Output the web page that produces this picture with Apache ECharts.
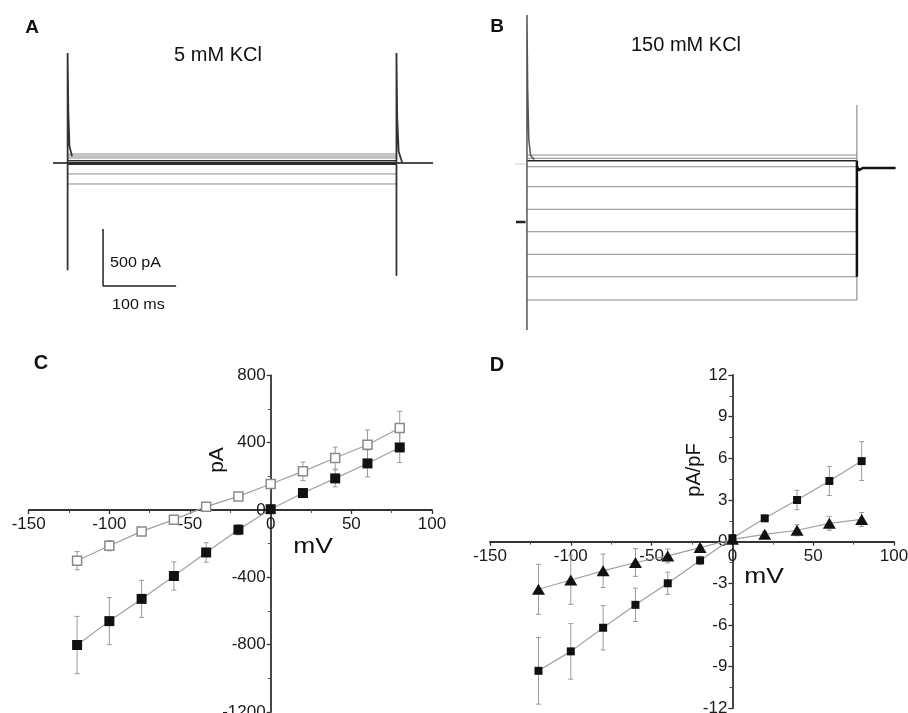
<!DOCTYPE html>
<html>
<head>
<meta charset="utf-8">
<script src="https://cdn.jsdelivr.net/npm/echarts@6/dist/echarts.min.js"></script>
<style>html,body{margin:0;padding:0;background:#fff}#c{width:908px;height:713px}</style>
</head>
<body>
<div id="c"></div>
<script>
// ---------- Panel A / B : current traces (pA), times in ms ----------
const aStepTimes = [20, 470];          // step onset / offset (ms)
const aEndTime = 520;
const aLevels = [79, 61, 44, 20, 6, -3, -11, -96, -184];   // steady currents (pA)
const aDark = [false, false, false, true, true, true, true, false, false];
const aOnsetSpike = [[20, -940], [20, 965], [21, 450], [22.5, 150], [26, 60]];
const aOffsetSpike = [[470, -990], [470, 965], [471, 400], [473, 100], [478, 0]];

const bStepTimes = [15, 467];
const bEndTime = 520;
const bLevels = [114, 85, 64, 11, -164, -362, -559, -757, -954, -1158];
const bDark = [false, false, true, false, false, false, false, false, false, false];
const bOnsetSpike = [[15, -1421], [15, 1342], [16, 700], [17.5, 250], [20, 110], [25, 75]];
const bOffsetThin = [[467, 553], [467, -1158]];
const bOffsetThick = [[467, 64], [467, -954]];
const bPreDash = [[0, -474], [13, -474]];
const bFaint = [[-5, 35], [15, 35]];
const bTail = [[467, 11], [470, -20], [475, 0], [520, 0]];

const scaleBarPA = 500, scaleBarMS = 100;

// ---------- Panel C : I-V (pA) ----------
const voltages = [-120, -100, -80, -60, -40, -20, 0, 20, 40, 60, 80];
const cFilled = [-802, -660, -528, -392, -252, -117, 5, 101, 188, 277, 372];
const cFilledErr = [170, 140, 110, 84, 58, 30, 10, 20, 50, 80, 90];
const cOpen = [-301, -212, -127, -57, 20, 81, 155, 230, 309, 388, 487];
const cOpenErr = [54, 30, 20, 15, 15, 15, 25, 55, 65, 88, 100];

// ---------- Panel D : current density (pA/pF) ----------
const dSquare = [-9.3, -7.9, -6.2, -4.55, -3.0, -1.35, 0.25, 1.68, 3.0, 4.37, 5.8];
const dSquareErr = [2.4, 2.0, 1.6, 1.2, 0.8, 0.3, 0.1, 0.2, 0.7, 1.05, 1.4];
const dTri = [-3.43, -2.76, -2.1, -1.5, -1.03, -0.43, 0.17, 0.53, 0.82, 1.32, 1.6];
const dTriErr = [1.8, 1.75, 1.2, 1.0, 0.5, 0.2, 0.1, 0.2, 0.4, 0.5, 0.5];

const FONT = 'Liberation Sans, Arial, sans-serif';

function pts(xs, ys) { return xs.map((x, i) => [x, ys[i]]); }
function errPts(xs, ys, es) { return xs.map((x, i) => [x, ys[i], es[i]]); }

function errRender(params, api) {
  const x = api.value(0), y = api.value(1), e = api.value(2);
  const t = api.coord([x, y + e]), b = api.coord([x, y - e]);
  const w = 2.5;
  const st = { stroke: '#9a9a9a', lineWidth: 1 };
  return { type: 'group', children: [
    { type: 'line', shape: { x1: t[0], y1: t[1], x2: b[0], y2: b[1] }, style: st },
    { type: 'line', shape: { x1: t[0] - w, y1: t[1], x2: t[0] + w, y2: t[1] }, style: st },
    { type: 'line', shape: { x1: b[0] - w, y1: b[1], x2: b[0] + w, y2: b[1] }, style: st }
  ]};
}

function traceLine(data, xi, color, width, z) {
  return { type: 'line', xAxisIndex: xi, yAxisIndex: xi, data: data, symbol: 'none',
    lineStyle: { color: color, width: width }, z: z || 2, silent: true, animation: false };
}

const series = [];
aLevels.forEach((lv, i) => {
  series.push(traceLine([[aStepTimes[0], lv], [aStepTimes[1], lv]], 0, aDark[i] ? '#2a2a2a' : '#8a8a8a', aDark[i] ? 1.3 : 1, aDark[i] ? 3 : 2));
});
series.push(traceLine([[0, 0], [aStepTimes[0], 0]], 0, '#111', 1.5, 4));
series.push(traceLine([[aStepTimes[1], 0], [aEndTime, 0]], 0, '#111', 1.5, 4));
series.push(traceLine(aOnsetSpike, 0, '#333', 1.8, 4));
series.push(traceLine(aOffsetSpike, 0, '#333', 1.8, 4));
series.push(traceLine([[68.5, -579], [68.5, -579 - scaleBarPA], [68.5 + scaleBarMS, -579 - scaleBarPA]], 0, '#222', 1.5, 4));

bLevels.forEach((lv, i) => {
  series.push(traceLine([[bStepTimes[0], lv], [bStepTimes[1], lv]], 1, bDark[i] ? '#222' : '#8a8a8a', bDark[i] ? 1.4 : 1, bDark[i] ? 3 : 2));
});
series.push(traceLine(bOnsetSpike, 1, '#555', 1.5, 4));
series.push(traceLine(bOffsetThin, 1, '#777', 1, 4));
series.push(traceLine(bOffsetThick, 1, '#111', 2.5, 4));
series.push(traceLine(bPreDash, 1, '#222', 2.5, 4));
series.push(traceLine(bFaint, 1, '#cfcfcf', 1, 1));
series.push(traceLine(bTail, 1, '#111', 2.5, 4));

series.push({ type: 'custom', xAxisIndex: 2, yAxisIndex: 2, renderItem: errRender, data: errPts(voltages, cFilled, cFilledErr), encode: { x: 0, y: 1 }, z: 2, animation: false });
series.push({ type: 'custom', xAxisIndex: 2, yAxisIndex: 2, renderItem: errRender, data: errPts(voltages, cOpen, cOpenErr), encode: { x: 0, y: 1 }, z: 2, animation: false });
series.push({ type: 'line', xAxisIndex: 2, yAxisIndex: 2, data: pts(voltages, cOpen), symbol: 'rect', symbolSize: 9,
  itemStyle: { color: '#fff', borderColor: '#8a8a8a', borderWidth: 1.5 }, lineStyle: { color: '#a0a0a0', width: 1.2 }, z: 3, animation: false });
series.push({ type: 'line', xAxisIndex: 2, yAxisIndex: 2, data: pts(voltages, cFilled), symbol: 'rect', symbolSize: 10,
  itemStyle: { color: '#111' }, lineStyle: { color: '#a0a0a0', width: 1.2 }, z: 4, animation: false });

series.push({ type: 'custom', xAxisIndex: 3, yAxisIndex: 3, renderItem: errRender, data: errPts(voltages, dSquare, dSquareErr), encode: { x: 0, y: 1 }, z: 2, animation: false });
series.push({ type: 'custom', xAxisIndex: 3, yAxisIndex: 3, renderItem: errRender, data: errPts(voltages, dTri, dTriErr), encode: { x: 0, y: 1 }, z: 2, animation: false });
series.push({ type: 'line', xAxisIndex: 3, yAxisIndex: 3, data: pts(voltages, dSquare), symbol: 'rect', symbolSize: 8,
  itemStyle: { color: '#111' }, lineStyle: { color: '#a0a0a0', width: 1.2 }, z: 4, animation: false });
series.push({ type: 'line', xAxisIndex: 3, yAxisIndex: 3, data: pts(voltages, dTri), symbol: 'triangle', symbolSize: [13, 11],
  itemStyle: { color: '#111' }, lineStyle: { color: '#a0a0a0', width: 1.2 }, z: 4, animation: false });

function hiddenAxis(min, max, gi) {
  return { type: 'value', gridIndex: gi, min: min, max: max, show: false, splitLine: { show: false } };
}
const gC = { left: 28.7, top: 375.4, width: 403.3, height: 336.6 };
const gD = { left: 490, top: 375, width: 404, height: 333.3 };
const plainNum = v => String(v);
function ivX(gi, off) {
  return { type: 'value', gridIndex: gi, position: 'bottom', offset: off, min: -150, max: 100, interval: 50,
    axisLine: { onZero: false, lineStyle: { color: '#333', width: 1.8 } },
    axisTick: { show: true, length: 4, lineStyle: { color: '#333', width: 1.3 } },
    minorTick: { show: true, splitNumber: 2, length: 3, lineStyle: { color: '#555', width: 1 } },
    splitLine: { show: false },
    axisLabel: { fontFamily: FONT, fontSize: 17, color: '#1a1a1a', margin: 6, formatter: plainNum, showMinLabel: true, showMaxLabel: true, hideOverlap: false } };
}
function ivY(gi, min, max, iv, off) {
  return { type: 'value', gridIndex: gi, position: 'left', offset: off, min: min, max: max, interval: iv,
    axisLine: { onZero: false, lineStyle: { color: '#333', width: 1.8 } },
    axisTick: { show: true, length: 4, lineStyle: { color: '#333', width: 1.3 } },
    minorTick: { show: true, splitNumber: 2, length: 3, lineStyle: { color: '#555', width: 1 } },
    splitLine: { show: false },
    axisLabel: { fontFamily: FONT, fontSize: 17, color: '#1a1a1a', margin: 5, formatter: plainNum, showMinLabel: true, showMaxLabel: true, hideOverlap: false } };
}

function txt(x, y, s, size, opts) {
  opts = opts || {};
  return { type: 'text', x: x, y: y, rotation: opts.rot || 0, scaleX: opts.sx || 1, z: 10,
    style: { text: s, fontFamily: FONT, fontSize: size, fontWeight: opts.bold ? 'bold' : 'normal',
      fill: '#111', textAlign: opts.align || 'center', textVerticalAlign: 'middle' } };
}

const cXoff = -(gC.height * (0 - (-1200)) / 2000);
const cYoff = -(gC.width * (0 - (-150)) / 250);
const dXoff = -(gD.height * 12 / 24);
const dYoff = -(gD.width * 150 / 250);

const option = {
  backgroundColor: '#fff',
  animation: false,
  grid: [
    { left: 53, top: 37.6, width: 380, height: 262.2, outerBoundsMode: 'none', containLabel: false },
    { left: 516, top: 8.4, width: 379.6, height: 330.6, outerBoundsMode: 'none', containLabel: false },
    Object.assign({ outerBoundsMode: 'none', containLabel: false }, gC),
    Object.assign({ outerBoundsMode: 'none', containLabel: false }, gD)
  ],
  xAxis: [hiddenAxis(0, aEndTime, 0), hiddenAxis(0, bEndTime, 1), ivX(2, cXoff), ivX(3, dXoff)],
  yAxis: [hiddenAxis(-1200, 1100, 0), hiddenAxis(-1500, 1400, 1), ivY(2, -1200, 800, 400, cYoff), ivY(3, -12, 12, 3, dYoff)],
  series: series,
  graphic: [
    txt(32, 28, 'A', 19, { bold: true }),
    txt(497, 27, 'B', 19, { bold: true }),
    txt(41, 363, 'C', 20, { bold: true }),
    txt(497, 365, 'D', 20, { bold: true }),
    txt(218, 55, '5 mM KCl', 20),
    txt(686, 45, '150 mM KCl', 20),
    txt(110, 263, '500 pA', 14, { align: 'left', sx: 1.15 }),
    txt(112, 305, '100 ms', 14, { align: 'left', sx: 1.15 }),
    txt(217, 460, 'pA', 21, { rot: Math.PI / 2 }),
    txt(313, 547, 'mV', 22, { sx: 1.2 }),
    txt(694, 470, 'pA/pF', 20, { rot: Math.PI / 2 }),
    txt(764, 577, 'mV', 22, { sx: 1.2 })
  ]
};

const chart = echarts.init(document.getElementById('c'), null, { renderer: 'canvas' });
chart.setOption(option);
</script>
</body>
</html>
